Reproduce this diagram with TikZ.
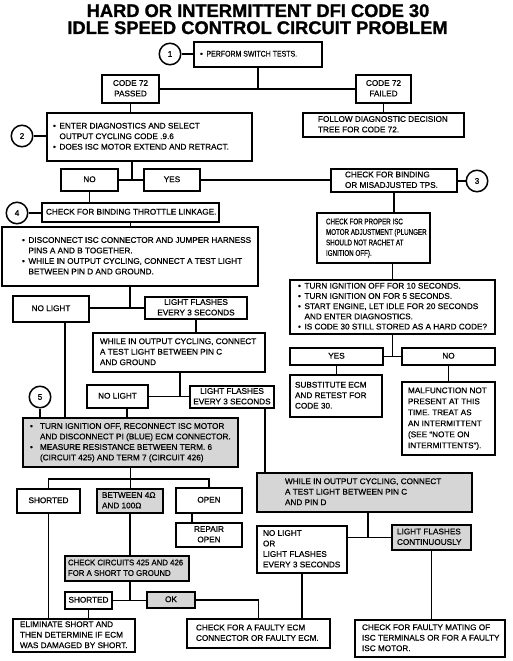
\documentclass[tikz,border=0pt]{standalone}
\usepackage{fontspec}
\usepackage{graphicx}
\setmainfont{Liberation Sans}[FakeBold=0.5]
\newfontfamily\titlefont{Liberation Sans Bold}[FakeBold=1.2]
\newcommand\bul{\makebox[6.5pt][l]{\textbullet}}
\newcommand\ind{\hspace*{6.5pt}}
\newcommand\bulw{\makebox[10pt][l]{\textbullet}}
\newcommand\indw{\hspace*{10pt}}
\newcommand\nar[2][0.76]{\scalebox{#1}[1]{#2}}
% left-aligned box: opts, name, x1, y1, x2, y2, pad, lines
\newcommand\tb[8]{%
  \pgfmathsetmacro\bw{#5-#3}\pgfmathsetmacro\bh{#6-#4}%
  \node[box,#1,minimum width=\bw pt,minimum height=\bh pt,anchor=north west] (#2) at (#3,#4)
    {\makebox[\bw pt][l]{\hspace*{#7pt}\begin{tabular}{@{}l@{}}#8\end{tabular}}};}
% centred box: opts, name, x1, y1, x2, y2, lines
\newcommand\cbx[7]{%
  \pgfmathsetmacro\bw{#5-#3}\pgfmathsetmacro\bh{#6-#4}%
  \node[box,#1,minimum width=\bw pt,minimum height=\bh pt,anchor=north west] (#2) at (#3,#4)
    {\makebox[\bw pt][c]{\begin{tabular}{@{}c@{}}#7\end{tabular}}};}
\tikzset{
  box/.style={draw,line width=1.5pt,inner sep=0pt,outer sep=0pt,
    font=\fontsize{8.2}{10.5}\selectfont},
  shade/.style={fill=black!16},
  circ/.style={draw,circle,line width=1.5pt,minimum size=21.5pt,inner sep=0pt,
    font=\fontsize{8.2}{10}\selectfont},
  conn/.style={line width=1.5pt},
  ttl/.style={inner sep=0pt,font=\fontsize{18.3}{20}\titlefont}
}
\begin{document}
\begin{tikzpicture}[x=1pt,y=-1pt]
\useasboundingbox[fill=white] (0,0) rectangle (512,661);
% title
\node[ttl,anchor=base] (t1) at (258,17) {HARD OR INTERMITTENT DFI CODE 30};
\node[ttl,anchor=base] (t2) at (257.5,34) {IDLE SPEED CONTROL CIRCUIT PROBLEM};
% circles
\node[circ] (c1) at (170,54) {1};
\node[circ] (c2) at (22,136) {2};
\node[circ] (c3) at (477,181) {3};
\node[circ] (c4) at (17,213) {4};
\node[circ] (c5) at (40,397) {5};
% boxes
\tb{}{b1}{194}{42}{322}{67}{6}{\bul \nar[0.85]{PERFORM SWITCH TESTS.}}
\cbx{}{pass}{102}{75}{159}{103}{CODE 72\\PASSED}
\cbx{}{fail}{356}{75}{411}{103}{CODE 72\\FAILED}
\tb{}{b2}{47}{113}{252}{161}{6}{\bul ENTER DIAGNOSTICS AND SELECT\\\ind OUTPUT CYCLING CODE .9.6\\\bul DOES ISC MOTOR EXTEND AND RETRACT.}
\tb{}{follow}{303}{113}{464}{137}{15}{FOLLOW DIAGNOSTIC DECISION\\TREE FOR CODE 72.}
\cbx{}{no1}{61}{169}{118}{191}{NO}
\cbx{}{yes1}{144}{169}{200}{191}{YES}
\tb{}{tps}{331}{169}{457}{192}{14}{CHECK FOR BINDING\\OR MISADJUSTED TPS.}
\tb{}{thr}{42}{203}{219}{222}{4}{CHECK FOR BINDING THROTTLE LINKAGE.}
\tb{}{disc}{2}{227}{258}{286}{20}{\bul DISCONNECT ISC CONNECTOR AND JUMPER HARNESS\\\ind PINS A AND B TOGETHER.\\\bul WHILE IN OUTPUT CYCLING, CONNECT A TEST LIGHT\\\ind BETWEEN PIN D AND GROUND.}
\cbx{}{nl1}{13}{296}{89}{322}{NO LIGHT}
\cbx{}{lf1}{145}{297}{247}{319}{LIGHT FLASHES\\EVERY 3 SECONDS}
\tb{}{wh1}{93}{333}{265}{372}{7}{WHILE IN OUTPUT CYCLING, CONNECT\\A TEST LIGHT BETWEEN PIN C\\AND GROUND}
\cbx{}{nl2}{87}{385}{148}{408}{NO LIGHT}
\cbx{}{lf2}{190}{386}{274}{408}{LIGHT FLASHES\\EVERY 3 SECONDS}
\tb{shade}{b5}{23}{418}{238}{467}{7}{\bulw TURN IGNITION OFF, RECONNECT ISC MOTOR\\\indw AND DISCONNECT PI (BLUE) ECM CONNECTOR.\\\bulw MEASURE RESISTANCE BETWEEN TERM. 6\\\indw (CIRCUIT 425) AND TERM 7 (CIRCUIT 426)}
\cbx{}{sh1}{17}{489}{80}{513}{SHORTED}
\tb{shade}{bt}{97}{489}{163}{513}{5}{BETWEEN 4Ω\\AND 100Ω}
\cbx{}{op}{176}{488}{242}{513}{OPEN}
\cbx{}{rep}{176}{523}{242}{547}{REPAIR\\OPEN}
\tb{shade}{ck}{65}{556}{189}{581}{3}{\nar[0.95]{CHECK CIRCUITS 425 AND 426}\\\nar[0.95]{FOR A SHORT TO GROUND}}
\cbx{}{sh2}{65}{592}{112}{609}{SHORTED}
\cbx{shade}{ok}{147}{592}{195}{608}{OK}
\tb{}{elim}{13}{619}{135}{652}{7}{ELIMINATE SHORT AND\\THEN DETERMINE IF ECM\\WAS DAMAGED BY SHORT.}
\tb{}{ecm}{187}{619}{330}{648}{9}{CHECK FOR A FAULTY ECM\\CONNECTOR OR FAULTY ECM.}
\tb{}{isc}{317}{213}{430}{263}{9}{\nar{CHECK FOR PROPER ISC}\\\nar{MOTOR ADJUSTMENT (PLUNGER}\\\nar{SHOULD NOT RACHET AT}\\\nar{IGNITION OFF).}}
\tb{font=\fontsize{8.2}{10.2}\selectfont}{ign}{290}{280}{495}{334}{8}{\bul TURN IGNITION OFF FOR 10 SECONDS.\\\bul TURN IGNITION ON FOR 5 SECONDS.\\\bul START ENGINE, LET IDLE FOR 20 SECONDS\\\ind AND ENTER DIAGNOSTICS.\\\bul IS CODE 30 STILL STORED AS A HARD CODE?}
\cbx{}{yes2}{290}{348}{383}{365}{YES}
\cbx{}{no2}{402}{348}{495}{365}{NO}
\tb{}{sub}{290}{375}{382}{417}{5}{SUBSTITUTE ECM\\AND RETEST FOR\\CODE 30.}
\tb{font=\fontsize{8.2}{11}\selectfont}{mal}{402}{382}{495}{455}{6}{MALFUNCTION NOT\\PRESENT AT THIS\\TIME. TREAT AS\\AN INTERMITTENT\\(SEE ``NOTE ON\\INTERMITTENTS'').}
\tb{shade}{wh2}{257}{473}{472}{512}{28}{WHILE IN OUTPUT CYCLING, CONNECT\\A TEST LIGHT BETWEEN PIN C\\AND PIN D}
\tb{}{nlo}{257}{526}{347}{573}{6}{NO LIGHT\\OR\\LIGHT FLASHES\\EVERY 3 SECONDS}
\tb{shade}{lfc}{392}{525}{471}{550}{5}{LIGHT FLASHES\\CONTINUOUSLY}
\tb{}{mat}{355}{620}{505}{657}{7}{CHECK FOR FAULTY MATING OF\\ISC TERMINALS OR FOR A FAULTY\\ISC MOTOR.}
% connectors
\coordinate (j2) at (132,180);
\draw[conn] (c1.east) -- (c1.east -| b1.west);
\draw[conn] (b1.south) -- (b1.south |- pass.east);
\draw[conn] (pass.east) -- (fail.west);
\draw[conn] (pass.south) -- (pass.south |- b2.north);
\draw[conn] (fail.south) -- (fail.south |- follow.north);
\draw[conn] (c2.east) -- (c2.east -| b2.west);
\draw[conn] (j2 |- b2.south) -- (j2);
\draw[conn] (no1.east) -- (yes1.west);
\draw[conn] (yes1.east) -- (yes1.east -| tps.west);
\draw[conn] (c3.west) -- (c3.west -| tps.east);
\draw[conn] (no1.south) -- (no1.south |- thr.north);
\draw[conn] (c4.east) -- (c4.east -| thr.west);
\draw[conn] (thr.south) -- (thr.south |- disc.north);
\draw[conn] (disc.south) -- (disc.south |- lf1.west);
\draw[conn] (nl1.east |- lf1.west) -- (lf1.west);
\draw[conn] ([xshift=14pt]nl1.south) -- ([xshift=14pt]nl1.south |- b5.north);
\draw[conn] (lf1.south) -- (lf1.south |- wh1.north);
\draw[conn] ([xshift=1pt]wh1.south) -- ([xshift=1pt]wh1.south |- nl2.east);
\draw[conn] (nl2.east) -- (nl2.east -| lf2.west);
\draw[conn] ([xshift=9.5pt]nl2.south) -- ([xshift=9.5pt]nl2.south |- b5.north);
\draw[conn] (c5.south) -- (c5.south |- b5.north);
\draw[conn] ([xshift=33pt]lf2.south) -- ([xshift=33pt]lf2.south |- wh2.north);
\draw[conn] (b5.south) -- (b5.south |- bt.north);
\draw[conn] (sh1.north) -- ++(0,-10) -| (op.north);
\draw[conn] ([xshift=-17pt]op.south) -- ([xshift=-17pt]op.south |- rep.north);
\draw[conn] (bt.south) -- (bt.south |- ck.north);
\draw[conn] ([xshift=3pt]ck.south) -- ([xshift=3pt]ck.south |- ok.west);
\draw[conn] (sh2.east) -- (sh2.east -| ok.west);
\draw[conn] (sh2.south) -- (sh2.south |- elim.north);
\draw[conn] (sh1.south) -- (sh1.south |- elim.north);
\draw[conn] (ok.east) -| (ecm.north);
\draw[conn] (tps.south) -- (tps.south |- isc.north);
\draw[conn] (ign.north) -- (ign.north |- isc.south);
\draw[conn] (ign.south) -- (ign.south |- yes2.east);
\draw[conn] (yes2.east) -- (no2.west);
\draw[conn] (yes2.south) -- (yes2.south |- sub.north);
\draw[conn] (no2.south) -- (no2.south |- mal.north);
\draw[conn] ([xshift=3.5pt]wh2.south) -- ([xshift=3.5pt]wh2.south |- lfc.west);
\draw[conn] (lfc.west) -- (lfc.west -| nlo.east);
\draw[conn] (nlo.south) -- (nlo.south |- ecm.north);
\draw[conn] (lfc.south) -- (lfc.south |- mat.north);
\end{tikzpicture}
\end{document}
